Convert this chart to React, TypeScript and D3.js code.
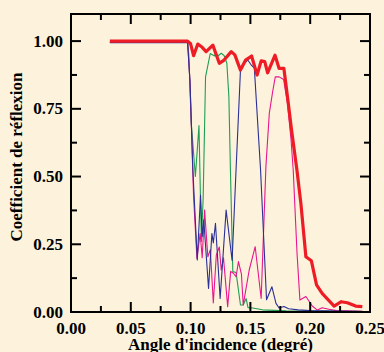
import React from "react";
import * as d3 from "d3";

const W = 384;
const H = 352;

const xTicksMajor = [0, 0.05, 0.1, 0.15, 0.2, 0.25];
const yTicksMajor = [0, 0.25, 0.5, 0.75, 1.0];

const redX = [0.0325, 0.0975, 0.1, 0.1025, 0.106, 0.1097, 0.113, 0.1186, 0.124, 0.128, 0.134, 0.137, 0.1417, 0.146, 0.151, 0.1556, 0.159, 0.162, 0.1644, 0.1706, 0.174, 0.178, 0.181, 0.1844, 0.1889, 0.1922, 0.1964, 0.201, 0.2053, 0.21, 0.22, 0.226, 0.231, 0.238, 0.2436];
const redY = [1.0, 1.0, 0.99, 0.946, 0.989, 0.977, 0.961, 0.985, 0.918, 0.93, 0.961, 0.949, 0.893, 0.93, 0.945, 0.875, 0.927, 0.924, 0.883, 0.948, 0.899, 0.899, 0.795, 0.672, 0.524, 0.401, 0.204, 0.189, 0.1, 0.069, 0.022, 0.038, 0.034, 0.022, 0.02];

const greenX = [0.0325, 0.0975, 0.0985, 0.1005, 0.104, 0.107, 0.109, 0.1105, 0.1125, 0.1164, 0.12, 0.1208, 0.1228, 0.1256, 0.128, 0.1303, 0.132, 0.1333, 0.1353, 0.138, 0.1417, 0.144, 0.1464, 0.148, 0.152, 0.16, 0.18, 0.2436];
const greenY = [0.997, 0.997, 0.95, 0.7, 0.5, 0.688, 0.26, 0.42, 0.868, 0.954, 0.945, 0.955, 0.945, 0.955, 0.947, 0.918, 0.795, 0.524, 0.149, 0.146, 0.026, 0.026, 0.05, 0.016, 0.015, 0.008, 0.004, 0.003];

const blueX = [0.0325, 0.0975, 0.0995, 0.1019, 0.1056, 0.1083, 0.1097, 0.111, 0.115, 0.1178, 0.119, 0.1208, 0.1247, 0.1297, 0.1347, 0.138, 0.1417, 0.145, 0.1478, 0.151, 0.1533, 0.1585, 0.1635, 0.168, 0.1714, 0.174, 0.178, 0.182, 0.19, 0.2, 0.2436];
const blueY = [0.994, 0.994, 0.85, 0.524, 0.192, 0.432, 0.278, 0.34, 0.087, 0.29, 0.255, 0.327, 0.05, 0.376, 0.19, 0.524, 0.893, 0.918, 0.93, 0.91, 0.9, 0.524, 0.045, 0.093, 0.032, 0.015, 0.02, 0.012, 0.008, 0.005, 0.002];

const magentaX = [0.0325, 0.0975, 0.0995, 0.1025, 0.1053, 0.108, 0.1097, 0.1117, 0.1144, 0.1165, 0.119, 0.1215, 0.124, 0.1256, 0.1275, 0.131, 0.1335, 0.1358, 0.138, 0.14, 0.1425, 0.144, 0.149, 0.154, 0.159, 0.163, 0.1658, 0.1686, 0.1708, 0.174, 0.1778, 0.181, 0.184, 0.1858, 0.189, 0.1914, 0.1964, 0.2017, 0.206, 0.21, 0.2156, 0.222, 0.2436];
const magentaY = [0.996, 0.996, 0.85, 0.425, 0.198, 0.29, 0.2, 0.376, 0.204, 0.23, 0.033, 0.21, 0.24, 0.155, 0.2, 0.02, 0.15, 0.143, 0.13, 0.186, 0.14, 0.026, 0.155, 0.241, 0.05, 0.54, 0.733, 0.813, 0.868, 0.868, 0.858, 0.77, 0.635, 0.524, 0.216, 0.044, 0.057, 0.022, 0.007, 0.016, 0.01, 0.005, 0.003];

const left = 71, right = 370, top = 14, bottom = 312;
const font = "'Liberation Serif', 'Times New Roman', serif";

export default function App() {
  const x = d3.scaleLinear().domain([0, 0.25]).range([left, right]);
  const y = d3.scaleLinear().domain([0, 1.1]).range([bottom, top]);
  const line = d3.line<[number, number]>().x((d) => x(d[0])).y((d) => y(d[1]));
  const pts = (xs: number[], ys: number[]) => xs.map((v, i) => [v, ys[i]] as [number, number]);
  const fmt = d3.format(".2f");
  const xMinor = d3.range(0, 11).map((i) => i * 0.025);
  const yMinor = d3.range(0, 9).map((i) => i * 0.125);
  const series = [
    { xs: greenX, ys: greenY, color: "#1f9e55", w: 1.1 },
    { xs: magentaX, ys: magentaY, color: "#e8168c", w: 1.1 },
    { xs: blueX, ys: blueY, color: "#2b2f96", w: 1.1 },
  ];
  return (
    <svg width={W} height={H} style={{ position: "absolute", left: 0, top: 0 }}>
      <rect x={0} y={0} width={W} height={H} fill="#fdf3dc" />
      {series.map((s, i) => (
        <path key={i} d={line(pts(s.xs, s.ys)) || ""} fill="none" stroke={s.color} strokeWidth={s.w} strokeLinejoin="round" />
      ))}
      <path d={line(pts(redX, redY)) || ""} fill="none" stroke="#ee1c25" strokeWidth={3.2} strokeLinejoin="round" />
      {/* ticks */}
      {xMinor.map((v, i) => {
        const len = i % 2 === 0 ? 10 : 6;
        return (
          <g key={"xt" + i} stroke="#000" strokeWidth={2}>
            <line x1={x(v)} x2={x(v)} y1={bottom} y2={bottom - len} />
            <line x1={x(v)} x2={x(v)} y1={top} y2={top + len} />
          </g>
        );
      })}
      {yMinor.map((v, i) => {
        const len = i % 2 === 0 ? 10 : 6;
        return (
          <g key={"yt" + i} stroke="#000" strokeWidth={2}>
            <line x1={left} x2={left + len} y1={y(v)} y2={y(v)} />
            <line x1={right} x2={right - len} y1={y(v)} y2={y(v)} />
          </g>
        );
      })}
      <rect x={left} y={top} width={right - left} height={bottom - top} fill="none" stroke="#000" strokeWidth={2} />
      {xTicksMajor.map((v) => (
        <text key={"xl" + v} x={x(v)} y={334} textAnchor="middle" fontFamily={font} fontWeight="bold" fontSize={17} fill="#000">
          {fmt(v)}
        </text>
      ))}
      {yTicksMajor.map((v) => (
        <text key={"yl" + v} x={63} y={y(v) + 5.5} textAnchor="end" fontFamily={font} fontWeight="bold" fontSize={17} fill="#000">
          {fmt(v)}
        </text>
      ))}
      <text x={(left + right) / 2} y={350} textAnchor="middle" fontFamily={font} fontWeight="bold" fontSize={17} fill="#000">
        Angle d'incidence (degré)
      </text>
      <text transform={`translate(22, ${(top + bottom) / 2 - 6}) rotate(-90)`} textAnchor="middle" fontFamily={font} fontWeight="bold" fontSize={17} fill="#000">
        Coefficient de réflexion
      </text>
    </svg>
  );
}
